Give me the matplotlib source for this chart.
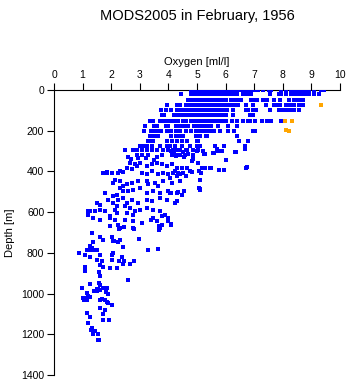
import numpy as np
import matplotlib
matplotlib.use("Agg")
import matplotlib.pyplot as plt

plt.rcParams['font.family'] = ['Liberation Sans', 'DejaVu Sans']

# standard levels with many casts (depth in m, oxygen in ml/l)
levels = [0, 20, 50, 75, 100, 125, 150, 175, 200, 225, 250, 275]
level_oxy = [
    [4.8, 4.9, 5.0, 5.1, 5.2, 5.3, 5.4, 5.5, 5.6, 5.7, 5.8, 5.9, 6.0, 6.1, 6.2, 6.3, 6.4, 6.5,
     6.6, 6.7, 6.8, 6.9, 7.0, 7.15, 7.3, 7.5, 7.6, 7.95, 8.1, 8.3, 8.4, 8.5, 8.6, 8.7, 8.8,
     8.9, 9.1, 9.35, 9.45],
    [4.45, 4.8, 4.9, 5.0, 5.1, 5.2, 5.3, 5.4, 5.5, 5.6, 5.7, 5.8, 5.9, 6.0, 6.1, 6.2, 6.3,
     6.4, 6.6, 6.75, 6.9, 7.55, 7.85, 7.95, 8.1, 8.3, 8.4, 8.5, 8.6, 8.7, 8.8, 8.9, 9.1, 9.25],
    [4.7, 4.8, 4.9, 5.0, 5.1, 5.2, 5.3, 5.4, 5.5, 5.6, 5.7, 5.8, 5.9, 6.0, 6.2, 6.3, 6.4,
     6.55, 6.9, 7.0, 7.1, 7.3, 7.45, 7.7, 7.9, 8.2, 8.4, 8.5, 8.6, 8.7],
    [3.95, 4.3, 4.4, 4.6, 4.7, 4.8, 4.9, 5.0, 5.1, 5.2, 5.3, 5.4, 5.5, 5.6, 5.7, 5.8, 5.9,
     6.0, 6.1, 6.2, 6.3, 6.45, 6.7, 6.97, 7.41, 7.7, 7.8, 7.9, 8.1, 8.2, 8.3, 8.4, 8.55, 8.7],
    [3.75, 3.9, 4.1, 4.3, 4.4, 4.5, 4.6, 4.75, 4.85, 4.95, 5.05, 5.15, 5.25, 5.35, 5.45, 5.55,
     5.65, 5.75, 5.85, 5.95, 6.05, 6.25, 6.7, 6.8, 6.95, 7.05, 7.55, 7.85, 8.0, 8.1, 8.2,
     8.25, 8.4, 8.55],
    [3.77, 3.85, 4.2, 4.3, 4.4, 4.5, 4.6, 4.7, 4.8, 4.9, 5.0, 5.1, 5.2, 5.3, 5.4, 5.5, 5.6,
     5.7, 5.8, 5.9, 6.0, 6.25, 6.85, 6.96],
    [3.35, 3.45, 3.7, 3.8, 3.9, 4.0, 4.1, 4.2, 4.35, 4.5, 4.6, 4.8, 4.9, 5.0, 5.1, 5.2, 5.3,
     5.4, 5.5, 5.6, 5.7, 5.8, 5.9, 6.0, 6.24, 6.4, 6.6, 6.8, 6.85, 7.03, 7.26, 7.44, 7.6, 7.94],
    [3.18, 3.5, 3.6, 3.9, 4.0, 4.25, 4.4, 4.55, 4.7, 4.9, 5.0, 5.1, 5.2, 5.3, 5.4, 5.5, 5.75,
     6.1, 6.4],
    [3.16, 3.4, 3.5, 3.62, 3.73, 3.95, 4.1, 4.25, 4.4, 4.6, 4.8, 4.95, 5.05, 5.15, 5.25, 5.35,
     5.5, 5.6, 5.8, 6.1, 6.3, 6.97, 7.03],
    [3.36, 3.5, 3.65, 4.1, 4.25, 4.4, 4.5, 4.95, 5.1, 5.3, 5.34, 6.4],
    [3.3, 3.39, 3.47, 3.94, 4.11, 4.31, 4.46, 4.64, 5.0, 5.05, 6.48, 6.8],
    [3.0, 3.12, 3.24, 3.42, 3.7, 3.95, 4.06, 4.23, 4.46, 4.76, 5.0, 5.1, 5.63, 5.93, 6.68],
]

# scattered deeper samples
deep_oxy = [
    2.48, 2.77, 2.89, 3.06, 3.24, 3.42, 3.59, 3.82, 4.0, 4.17, 4.41, 4.64, 4.87, 5.05,
    6.68, 6.37, 5.86, 5.7, 5.75, 5.6, 5.25, 5.2, 5.0, 5.28, 5.57, 6.33,
    4.1, 4.2, 4.3, 4.4, 4.5, 4.6, 4.7, 4.25, 4.55,
    2.89, 3.06, 3.3, 3.77, 4.11, 4.35, 4.58, 4.87, 2.95, 2.6, 2.7, 3.2, 3.5, 3.6,
    6.03, 2.66, 2.83, 3.01, 3.24, 3.41, 3.59, 3.76, 3.94, 4.11, 4.29,
    4.46, 4.64, 4.81, 4.87, 5.05, 5.17, 5.28, 5.45, 5.78, 6.7, 6.74, 5.95, 5.5,
    2.54, 2.72, 2.89, 3.07, 3.24, 3.41, 3.65, 3.82, 4.0, 4.17, 4.29,
    4.23, 4.35, 4.41, 4.52, 4.62, 4.76, 4.81, 5.07, 5.13,
    1.72, 1.84, 2.02, 2.25, 2.31, 2.42, 1.75, 1.87,
    2.13, 2.07, 2.31, 2.42, 2.54, 2.72, 2.95, 3.24, 3.3, 3.53, 3.65, 3.82, 4.11, 4.05, 4.4,
    2.31, 2.42, 2.6, 2.77, 3.01, 3.24, 3.47, 3.71, 4.0, 4.29,
    5.07, 5.1, 4.05, 4.1, 4.35, 4.46, 4.55, 5.1, 5.1,
    1.78, 2.07, 2.19, 2.25, 2.42, 2.54, 2.72, 2.95, 3.24, 3.41, 3.71, 3.94, 4.23, 4.29, 4.3,
    1.49, 1.61, 1.9, 2.07, 2.19, 2.48, 2.66, 2.83, 3.01, 3.24, 3.47, 3.71, 3.88, 4.0, 3.76,
    1.26, 1.43, 1.61, 1.78, 1.96, 2.13, 2.19, 2.54, 2.77, 1.38, 1.61, 1.96, 2.13, 2.48, 2.77,
    3.59, 3.76, 4.0, 4.1, 1.18, 1.2, 3.4, 3.47,
    2.25, 2.31, 2.77, 3.07, 3.71, 1.96, 2.28, 2.45, 2.8, 3.68, 3.68, 4.1,
    1.34, 1.61, 1.72, 2.02, 2.1, 2.3, 2.98, 1.35, 1.26, 1.32, 2.07, 2.25, 2.42, 3.3, 3.62,
    1.14, 1.26, 1.38, 1.5, 0.89, 1.1, 1.26, 1.61, 2.07, 2.02, 2.37, 1.52, 1.67, 2.02, 2.28,
    2.46, 2.8,
    1.61, 1.72, 1.96, 2.21, 2.42, 2.66, 1.08, 1.08, 1.58, 1.61, 2.6,
    1.58, 1.61, 1.26, 0.97, 1.7, 1.5, 1.62, 1.82, 1.9, 1.39, 1.55,
    1.14, 1.2, 1.26, 1.08, 1.0, 1.49, 1.84, 1.78, 1.84, 1.9, 2.02, 1.61, 1.67, 1.14, 1.04,
    1.61, 1.78, 1.72, 1.14, 1.26, 1.93, 1.72,
    1.2, 1.34, 1.29, 1.43, 1.38, 1.55, 1.58, 1.53,
]
deep_depth = [
    296, 296, 296, 296, 296, 296, 296, 296, 296, 296, 296, 296, 296, 296,
    291, 304, 300, 291, 300, 308, 316, 300, 300, 316, 308, 305,
    300, 310, 295, 320, 305, 295, 315, 325, 330,
    320, 320, 320, 320, 320, 320, 320, 320, 336, 330, 340, 335, 345, 330,
    344, 357, 365, 357, 373, 365, 357, 365, 373, 365, 382,
    382, 382, 349, 341, 357, 382, 382, 382, 393, 382, 378, 393, 382,
    382, 389, 373, 406, 414, 398, 414, 406, 414, 406, 423,
    398, 406, 414, 406, 423, 398, 403, 398, 406,
    406, 406, 406, 406, 398, 403, 406, 404,
    440, 456, 448, 472, 464, 456, 448, 448, 464, 456, 472, 448, 456, 430, 447,
    481, 497, 497, 489, 481, 505, 497, 505, 497, 505,
    481, 489, 505, 505, 503, 514, 497, 440, 486,
    505, 522, 514, 538, 530, 555, 538, 555, 538, 547, 530, 538, 555, 547, 547,
    555, 563, 538, 555, 571, 571, 580, 596, 588, 580, 588, 596, 613, 629, 621,
    596, 596, 588, 596, 621, 588, 604, 604, 613, 629, 637, 629, 637, 637, 645,
    645, 662, 645, 657, 612, 596, 637, 628,
    662, 678, 678, 654, 678, 666, 685, 672, 681, 670, 687, 662,
    703, 724, 736, 724, 744, 736, 731, 747, 764, 774, 744, 748, 769, 785, 782,
    785, 785, 785, 785, 802, 810, 818, 810, 802, 810, 821, 834, 839, 834, 842,
    839, 842,
    860, 868, 875, 875, 856, 856, 868, 889, 893, 913, 933,
    950, 958, 955, 971, 974, 979, 982, 991, 1000, 986, 979,
    999, 1011, 1015, 1020, 1024, 988, 974, 1032, 1040, 1048, 1056, 1032, 1028, 1032, 1032,
    1070, 1082, 1098, 1093, 1114, 1128, 1128,
    1147, 1169, 1177, 1183, 1201, 1201, 1230, 1226,
]

# flagged values (orange)
flag_oxy = [9.35, 8.08, 8.33, 8.12, 8.2]
flag_depth = [74, 150, 150, 198, 202]

x_ticks = [0, 1, 2, 3, 4, 5, 6, 7, 8, 9, 10]
y_ticks = [0, 200, 400, 600, 800, 1000, 1200, 1400]

lvl_x = [v for row in level_oxy for v in row]
lvl_y = [d for d, row in zip(levels, level_oxy) for v in row]
oxy = np.array(lvl_x + deep_oxy)
dep = np.array(lvl_y + deep_depth)

fig = plt.figure(figsize=(3.48, 3.84), dpi=100)
ax = fig.add_axes([54 / 348, 1 - 375 / 384, 286 / 348, 285 / 384])

ax.plot(oxy, dep, 's', ms=2.2, mew=0, color='#0000ff', antialiased=False, zorder=3)
ax.plot(flag_oxy, flag_depth, 's', ms=3.0, mew=0, color='#ffa500', antialiased=False, zorder=4)

ax.set_xlim(0, 10)
ax.set_ylim(1400, 0)
ax.set_xticks(x_ticks)
ax.set_yticks(y_ticks)
ax.xaxis.tick_top()
ax.xaxis.set_label_position('top')
ax.spines['right'].set_visible(False)
ax.spines['bottom'].set_visible(False)
ax.tick_params(direction='out', length=5, width=0.8, labelsize=7.5, pad=2)
ax.set_xlabel('Oxygen [ml/l]', fontsize=8, labelpad=4)
ax.set_ylabel('Depth [m]', fontsize=8, labelpad=4)
fig.text(197 / 348, 1 - 16 / 384, 'MODS2005 in February, 1956', fontsize=10.5,
         ha='center', va='center')

fig.savefig('out.png', dpi=100)
